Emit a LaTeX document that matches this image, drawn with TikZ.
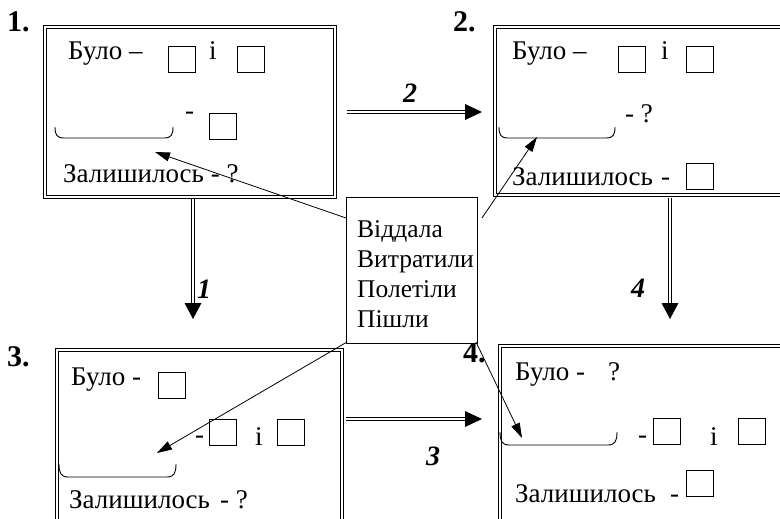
\documentclass[tikz,border=0pt]{standalone}
\usepackage{fontspec}
\setmainfont{Liberation Serif}
\usetikzlibrary{arrows.meta,calc}
\begin{document}
\begin{tikzpicture}[x=1pt,y=-1pt,
  framebox/.style={draw, double, line width=1.3pt, double distance=1.5pt, inner sep=0pt},
  sq/.style={draw, line width=0.9pt, minimum width=27pt, minimum height=26pt, inner sep=0pt},
  txt/.style={inner sep=0pt, anchor=base west, font=\fontsize{27}{31}\selectfont},
  ctxt/.style={inner sep=0pt, anchor=base west, font=\fontsize{25.5}{30}\selectfont},
  num/.style={inner sep=0pt, anchor=base west, font=\bfseries\fontsize{30}{34}\selectfont},
  anum/.style={inner sep=0pt, font=\bfseries\itshape\fontsize{28}{32}\selectfont},
  shaft/.style={draw, double, line width=1.2pt, double distance=1.5pt},
  headfill/.style={fill=black},
  ptr/.style={line width=0.8pt, -{Triangle[length=15pt,width=9pt]}},
  bracepath/.style={line width=0.9pt},
  centerbox/.style={draw, line width=0.9pt, minimum width=131pt, minimum height=146pt, inner sep=0pt}
]
\useasboundingbox (0,0) rectangle (780,519);
\clip (0,0) rectangle (780,519);

% frames
\node[framebox, minimum width=290pt, minimum height=170pt] (box1) at (190,112) {};
\node[framebox, minimum width=290pt, minimum height=168pt] (box2) at (640,111) {};
\node[framebox, minimum width=285pt, minimum height=176pt] (box3) at (199.5,438) {};
\node[framebox, minimum width=290pt, minimum height=180pt] (box4) at (645,436) {};

% numbers
\node[num] (n1) at (7,32) {1.};
\node[num] (n2) at (453,32) {2.};
\node[num] (n3) at (7,366) {3.};
\node[num] (n4) at (463,362) {4.};

% box 1
\node[txt] (b1a) at (68,60) {Було –};
\node[sq] (s1a) at (181.5,59) {};
\node[txt] (b1i) at (209,60) {і};
\node[sq] (s1b) at (250.5,59) {};
\draw[bracepath] (55,127) .. controls (55,135) and (57,138) .. (64,138) -- (164,138) .. controls (171,138) and (173,135) .. (173,127);
\coordinate (br1) at (155,152);
\node[txt] (b1d) at (185,120) {-};
\node[sq] (s1c) at (223,126) {};
\node[txt] (b1z) at (63,182) {Залишилось - ?};

% box 2
\node[txt] (b2a) at (512,60) {Було –};
\node[sq] (s2a) at (631.5,59) {};
\node[txt] (b2i) at (661,60) {і};
\node[sq] (s2b) at (700,59) {};
\draw[bracepath] (499,127) .. controls (499,135) and (501,138) .. (508,138) -- (606,138) .. controls (613,138) and (615,135) .. (615,127);
\coordinate (br2) at (537,137);
\node[txt] (b2q) at (625,123) {- ?};
\node[txt] (b2z) at (512,185) {Залишилось};
\node[txt] (b2d) at (661,185) {-};
\node[sq] (s2c) at (699.5,176) {};

% box 3
\node[txt] (b3a) at (71,385) {Було -};
\node[sq] (s3a) at (171.5,385) {};
\node[txt] (b3d) at (195,443) {-};
\node[sq] (s3b) at (222.5,432) {};
\node[txt] (b3i) at (255,445) {і};
\node[sq] (s3c) at (290.5,432) {};
\draw[bracepath] (59,464) .. controls (59,473) and (61,477) .. (68,477) -- (167,477) .. controls (174,477) and (176,473) .. (176,464);
\coordinate (br3) at (157,453);
\node[txt] (b3z) at (69,508) {Залишилось};
\node[txt] (b3q) at (220,508) {- ?};

% box 4
\node[txt] (b4a) at (515,380) {Було -};
\node[txt] (b4q) at (608,380) {?};
\draw[bracepath] (500,432) .. controls (500,441) and (502,445) .. (509,445) -- (608,445) .. controls (615,445) and (617,441) .. (617,432);
\coordinate (br4) at (522,438);
\node[txt] (b4d) at (638,443) {-};
\node[sq] (s4a) at (666.5,431.5) {};
\node[txt] (b4i) at (710,445) {і};
\node[sq] (s4b) at (751.5,431.5) {};
\node[txt] (b4z) at (515,502) {Залишилось};
\node[txt] (b4d2) at (670,502) {-};
\node[sq] (s4c) at (700,483.5) {};

% center box
\node[centerbox, fill=white] (cbox) at (411.5,270) {};
\node[ctxt] (c1) at (357,237) {Віддала};
\node[ctxt] (c2) at (357,267) {Витратили};
\node[ctxt] (c3) at (357,297) {Полетіли};
\node[ctxt] (c4) at (357,327) {Пішли};

% pointers
\coordinate (p1) at (346,218);
\coordinate (p2) at (482,218);
\coordinate (p3) at (347,342);
\coordinate (p4) at (476,342);
\draw[ptr] (p1) -- (br1);
\draw[ptr] (p2) -- (br2);
\draw[ptr] (p3) -- (br3);
\draw[ptr] (p4) -- (br4);

% big arrows
\coordinate (a1s) at (193,199);
\coordinate (a1e) at (193,319);
\draw[shaft] (a1s) -- ($(a1e)+(0,-15)$);
\fill[headfill] (a1e) -- ++(-8.5,-16) -- ++(17,0) -- cycle;
\node[anum] (l1) at (204,289) {1};

\coordinate (a4s) at (670,198);
\coordinate (a4e) at (670,319);
\draw[shaft] (a4s) -- ($(a4e)+(0,-15)$);
\fill[headfill] (a4e) -- ++(-8.5,-16) -- ++(17,0) -- cycle;
\node[anum] (l4) at (638,288) {4};

\coordinate (a2s) at (347,112);
\coordinate (a2e) at (482,112);
\draw[shaft] (a2s) -- ($(a2e)+(-15,0)$);
\fill[headfill] (a2e) -- ++(-17,-8) -- ++(0,16) -- cycle;
\node[anum] (l2) at (410,93) {2};

\coordinate (a3s) at (346,419);
\coordinate (a3e) at (482,419);
\draw[shaft] (a3s) -- ($(a3e)+(-15,0)$);
\fill[headfill] (a3e) -- ++(-17,-8) -- ++(0,16) -- cycle;
\node[anum] (l3) at (433,456) {3};
\end{tikzpicture}
\end{document}
